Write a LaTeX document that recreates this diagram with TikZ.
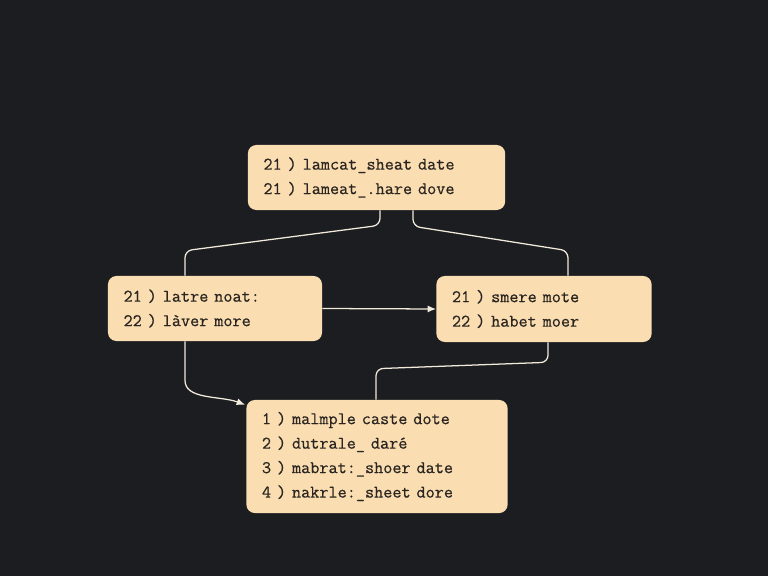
\documentclass[tikz,border=0pt]{standalone}
\usepackage{amsmath,amssymb}
\usepackage{fontspec}
\setmonofont[FakeBold=0.6]{Latin Modern Mono}
\usepackage{tikz}
\usetikzlibrary{calc,arrows.meta}

\definecolor{bgdark}{HTML}{1B1D21}
\definecolor{peach}{HTML}{FBDDB2}
\definecolor{inkbrown}{HTML}{2A2520}
\definecolor{wire}{HTML}{F2EADB}

\tikzset{
  box/.style={fill=peach,rounded corners=6pt,align=left,inner xsep=0.39cm,
    text=inkbrown,font=\ttfamily\fontsize{12.6}{17.4}\selectfont},
  link/.style={draw=wire,line width=0.9pt,rounded corners=5pt}
}

\begin{document}
\begin{tikzpicture}[>={Latex[length=6pt,width=5pt]},x=0.025cm,y=-0.025cm]
\fill[bgdark] (0,0) rectangle (768,576);
\useasboundingbox (0,0) rectangle (768,576);
\node[box,text width=5.65cm,minimum height=1.625cm] (A) at (376.5,177.5)
  {21 ) lamcat\_sheat date\\21 ) lameat\_.hare dove};
\node[box,text width=4.57cm,minimum height=1.625cm] (B) at (215,308.5)
  {21 ) latre noat:\\22 ) làver more};
\node[box,text width=4.6cm,minimum height=1.65cm] (C) at (544,309)
  {21 ) smere mote\\22 ) habet moer};
\node[box,text width=5.75cm,minimum height=2.825cm] (D) at (377,456.5)
  {1 ) malmple caste dote\\2 ) dutrale\_ daré\\3 ) mabrat:\_shoer date\\4 ) nakrle:\_sheet dore};
% connectors
\draw[link] ($(A.south)+(3.5,0)$) -- ++(0,15) -- ($(B.north)+(-30,-25)$) -- ($(B.north)+(-30,0)$);
\draw[link] ($(A.south)+(36.5,0)$) -- ++(0,16) -- ($(C.north)+(24,-25)$) -- ($(C.north)+(24,0)$);
\draw[link,->] (B.east) -- (C.west);
\draw[link,->] ($(B.south)+(-30,0)$) -- ++(0,32) to[out=-90,in=160] ($(D.north west)+(-1,5)$);
\draw[link] ($(C.south)+(4,0)$) -- ++(0,20) -- ($(D.north)+(-1,-31)$) -- ($(D.north)+(-1,0)$);
\end{tikzpicture}
\end{document}
